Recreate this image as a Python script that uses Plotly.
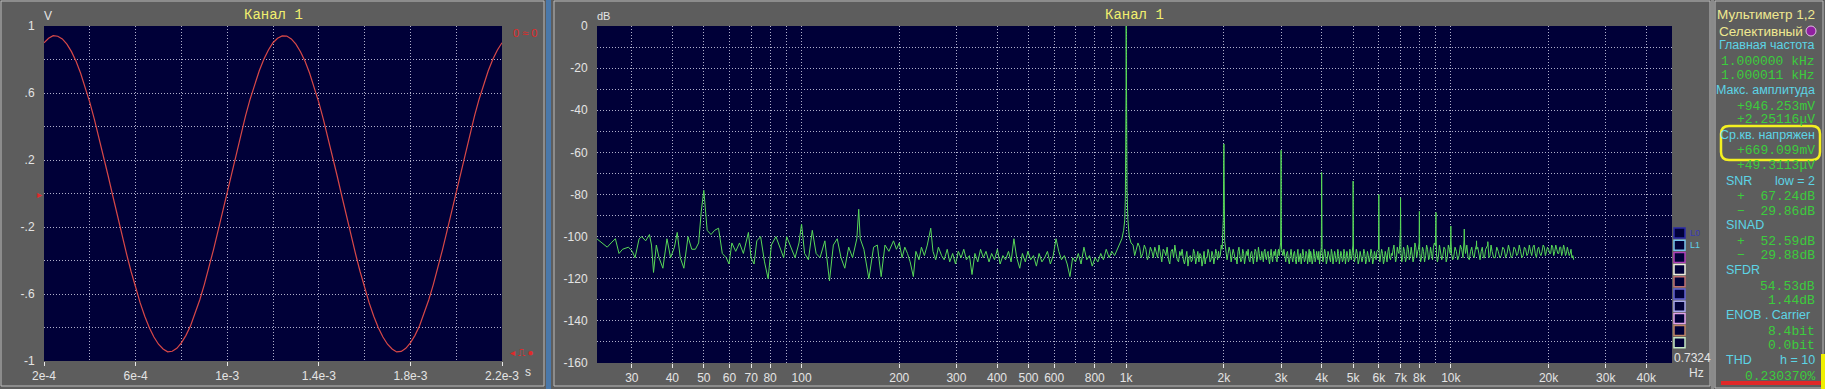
import plotly.graph_objects as go

W, H = 1825, 389

# ---------------- data ----------------
# oscilloscope (time in microseconds, volts)
wave_t_us = [200, 220, 240, 260, 280, 300, 320, 340, 360, 380,
             400, 420, 440, 460, 480, 500, 520, 540, 560, 580,
             600, 620, 640, 660, 680, 700, 720, 740, 760, 780,
             800, 820, 840, 860, 880, 900, 920, 940, 960, 980,
             1000, 1020, 1040, 1060, 1080, 1100, 1120, 1140, 1160, 1180,
             1200, 1220, 1240, 1260, 1280, 1300, 1320, 1340, 1360, 1380,
             1400, 1420, 1440, 1460, 1480, 1500, 1520, 1540, 1560, 1580,
             1600, 1620, 1640, 1660, 1680, 1700, 1720, 1740, 1760, 1780,
             1800, 1820, 1840, 1860, 1880, 1900, 1920, 1940, 1960, 1980,
             2000, 2020, 2040, 2060, 2080, 2100, 2120, 2140, 2160, 2180,
             2200]
wave_v = [0.900, 0.927, 0.942, 0.939, 0.923, 0.892, 0.847, 0.789, 0.718, 0.636,
          0.544, 0.443, 0.336, 0.223, 0.106, -0.012, -0.130, -0.246, -0.358, -0.464,
          -0.563, -0.653, -0.733, -0.802, -0.857, -0.900, -0.928, -0.945, -0.942, -0.924,
          -0.892, -0.847, -0.789, -0.718, -0.636, -0.544, -0.443, -0.336, -0.223, -0.106,
          0.012, 0.130, 0.246, 0.358, 0.464, 0.563, 0.653, 0.733, 0.802, 0.857,
          0.900, 0.927, 0.941, 0.940, 0.923, 0.892, 0.846, 0.789, 0.718, 0.636,
          0.544, 0.443, 0.336, 0.223, 0.106, -0.012, -0.130, -0.246, -0.358, -0.464,
          -0.563, -0.653, -0.733, -0.802, -0.857, -0.900, -0.928, -0.946, -0.943, -0.924,
          -0.892, -0.847, -0.789, -0.718, -0.636, -0.544, -0.443, -0.336, -0.223, -0.106,
          0.012, 0.130, 0.246, 0.358, 0.464, 0.563, 0.653, 0.733, 0.802, 0.857,
          0.900]

# spectrum (Hz, dB)
spec_low_f = [23.4, 24.6, 25.2, 25.9, 26.7, 27.4, 28.1, 29.3, 30.1, 30.7,
              31.6, 32.2, 33.1, 34.0, 34.5, 35.0, 35.7, 36.4, 37.4, 38.5,
              39.5, 40.6, 41.4, 42.3, 43.4, 44.7, 45.9, 47.1, 48.2, 49.1,
              50.0, 50.5, 51.2, 52.6, 54.0, 55.5, 57.0, 58.6, 59.8, 61.0,
              62.7, 64.4, 66.2, 68.6, 69.9, 71.4, 72.8, 74.8, 76.9, 78.9,
              80.7, 83.4, 85.7, 88.1, 90.0, 92.9, 95.5, 98.2, 100.0, 102.2,
              105.0, 107.9, 110.9, 114.0, 118.0, 121.9, 125.3, 128.8, 132.3, 135.9,
              139.7, 143.6, 148.0, 150.0, 151.6, 155.6, 161.2, 166.7, 171.2, 175.9,
              180.7, 185.8]
spec_low_db = [-101, -104, -105, -103, -101, -108, -106, -105, -107, -110,
               -101, -100, -102, -99, -104, -117, -104, -110, -115, -101,
               -110, -105, -98, -110, -115, -100, -106, -106, -103, -88,
               -78, -86, -97, -99, -97, -96, -108, -110, -113, -103,
               -107, -103, -108, -98, -110, -113, -102, -100, -112, -120,
               -104, -100, -105, -110, -100, -105, -110, -103, -94, -108,
               -111, -97, -108, -110, -102, -121, -104, -101, -110, -115,
               -105, -110, -101, -87, -101, -106, -120, -105, -104, -119,
               -104, -107]

spec_mid_f = [192, 196, 200, 204, 208, 212, 216, 221, 225, 230,
              234, 239, 244, 250, 254, 259, 264, 270, 275, 281,
              286, 292, 298, 304, 310, 316, 322, 329, 335, 342,
              349, 356, 363, 370, 378, 385, 393, 401, 409, 417,
              425, 434, 442, 451, 460, 470, 479, 489, 498, 508,
              518, 529, 539, 550, 561, 572, 584, 596, 608, 620,
              632, 645, 658, 671, 684, 698, 712, 726, 741, 756,
              771, 786, 802, 818, 835, 851, 868, 886, 903, 921,
              940, 958]
spec_mid_db = [-102, -106, -103, -110, -105, -108, -112, -119, -107, -111,
               -105, -109, -104, -96, -107, -111, -105, -109, -111, -106,
               -112, -108, -113, -107, -110, -106, -111, -109, -118, -108,
               -112, -106, -110, -107, -112, -108, -111, -106, -113, -109,
               -111, -107, -112, -101, -110, -115, -108, -112, -107, -111,
               -109, -114, -108, -112, -110, -107, -113, -109, -101, -107,
               -111, -109, -113, -119, -110, -112, -108, -113, -105, -111,
               -109, -114, -110, -112, -108, -111, -106, -110, -107, -109,
               -106, -103]

spec_fund_f = [970, 982, 990, 994, 997, 999, 1000, 1001, 1003, 1006, 1012, 1022, 1035]
spec_fund_db = [-101, -97, -92, -82, -64, -30, 0, -28, -66, -78, -92, -100, -103]

spec_high_f = [1050, 1075, 1100, 1125, 1150, 1175, 1200, 1225, 1250, 1275,
               1300, 1325, 1350, 1375, 1400, 1425, 1450, 1475, 1500, 1525,
               1550, 1575, 1600, 1625, 1650, 1675, 1700, 1725, 1750, 1775,
               1800, 1825, 1850, 1875, 1900, 1925, 1950, 1975, 1992, 1996,
               2000, 2004, 2010, 2030, 2060, 2090, 2120, 2150, 2180, 2210,
               2240, 2270, 2300, 2330, 2360, 2390, 2420, 2450, 2480, 2510,
               2540, 2570, 2600, 2630, 2660, 2690, 2720, 2750, 2780, 2810,
               2840, 2870, 2900, 2930, 2960, 2990, 2996, 3000, 3004, 3010,
               3040, 3080, 3120, 3160, 3200, 3240, 3280, 3320, 3360, 3400,
               3440, 3480, 3520, 3560, 3600, 3640, 3680, 3720, 3760, 3800,
               3840, 3880, 3920, 3960, 3990, 3996, 4000, 4004, 4012, 4060,
               4110, 4160, 4210, 4260, 4310, 4360, 4410, 4460, 4510, 4560,
               4610, 4660, 4710, 4760, 4810, 4860, 4910, 4960, 4992, 5000,
               5006, 5015, 5080, 5150, 5220, 5290, 5360, 5430, 5500, 5570,
               5640, 5710, 5780, 5850, 5920, 5985, 5995, 6000, 6006, 6015,
               6080, 6160, 6240, 6320, 6400, 6480, 6560, 6640, 6720, 6800,
               6880, 6960, 6994, 7000, 7007, 7020, 7100, 7200, 7300, 7400,
               7500, 7600, 7700, 7800, 7900, 7985, 7994, 8000, 8008, 8020,
               8120, 8240, 8360, 8480, 8600, 8720, 8840, 8960, 8994, 9000,
               9008, 9030, 9150, 9300, 9450, 9600, 9750, 9900, 9990, 10000,
               10012, 10050, 10200, 10400, 10600, 10800, 10980, 11000, 11020, 11100,
               11300, 11500, 11700, 11900, 11990, 12000, 12020, 12200, 12400, 12600,
               12800, 12990, 13000, 13020, 13200, 13400, 13700, 14000, 14300, 14600,
               14900, 15200, 15500, 15800, 16100, 16400, 16700, 17000, 17300, 17600,
               17900, 18200, 18500, 18800, 19100, 19400, 19700, 20000, 20300, 20600,
               20900, 21200, 21500, 21800, 22100, 22400, 22700, 23000, 23300, 23600,
               23900]
spec_high_db = [-104, -106, -105, -108, -106, -109, -107, -105, -110, -108,
                -106, -109, -111, -107, -110, -108, -112, -109, -111, -110,
                -114, -109, -111, -108, -110, -112, -109, -111, -113, -110,
                -108, -111, -109, -110, -108, -107, -109, -106, -91, -66,
                -56, -72, -102, -106, -108, -107, -109, -108, -110, -107,
                -109, -111, -108, -110, -109, -111, -108, -110, -109, -107,
                -110, -108, -111, -109, -107, -110, -108, -111, -109, -110,
                -108, -109, -111, -108, -109, -103, -84, -59, -91, -106,
                -109, -110, -108, -111, -109, -110, -108, -111, -109, -112,
                -108, -110, -109, -111, -108, -110, -112, -109, -111, -108,
                -110, -109, -107, -110, -105, -89, -69.5, -95, -107, -110,
                -108, -111, -109, -112, -108, -110, -109, -111, -108, -110,
                -109, -111, -108, -110, -109, -111, -108, -109, -104, -73.6,
                -92, -107, -110, -108, -111, -109, -110, -108, -111, -109,
                -110, -108, -111, -109, -107, -106, -95, -80, -96, -108,
                -110, -108, -111, -109, -107, -110, -108, -106, -109, -110,
                -107, -104, -96, -81.5, -98, -108, -110, -107, -110, -106,
                -109, -108, -110, -105, -107, -103, -98, -88, -99, -108,
                -110, -107, -109, -106, -110, -108, -105, -104, -98, -88.5,
                -100, -108, -110, -107, -109, -106, -110, -106, -101, -95,
                -102, -108, -110, -107, -109, -106, -102, -96.4, -103, -108,
                -110, -107, -109, -106, -104, -102, -106, -109, -107, -110,
                -106, -104, -102.4, -107, -109, -107, -110, -107, -109, -106,
                -108, -107, -109, -106, -108, -107, -109, -106, -108, -107,
                -105, -108, -106, -108, -107, -105, -107, -106, -108, -105,
                -107, -106, -108, -105, -107, -106, -108, -107, -108, -110,
                -111]

# extra noise-floor bins (fine "hair" between the bins above)
spec_hair_f = [1062, 1087, 1112, 1137, 1162, 1187, 1212, 1237, 1262, 1287,
               1312, 1337, 1362, 1387, 1412, 1437, 1462, 1487, 1512, 1537,
               1562, 1587, 1612, 1637, 1662, 1687, 1712, 1737, 1762, 1787,
               1812, 1837, 1862, 1887, 1912, 1937, 1962,
               2045, 2075, 2105, 2135, 2165, 2195, 2225, 2255, 2285, 2315,
               2345, 2375, 2405, 2435, 2465, 2495, 2525, 2555, 2585, 2615,
               2645, 2675, 2705, 2735, 2765, 2795, 2825, 2855, 2885, 2915, 2945,
               3060, 3100, 3140, 3180, 3220, 3260, 3300, 3340, 3380, 3420,
               3460, 3500, 3540, 3580, 3620, 3660, 3700, 3740, 3780, 3820,
               3860, 3900, 3940, 3975,
               4035, 4085, 4135, 4185, 4235, 4285, 4335, 4385, 4435, 4485,
               4535, 4585, 4635, 4685, 4735, 4785, 4835, 4885, 4935, 4975,
               5045, 5115, 5185, 5255, 5325, 5395, 5465, 5535, 5605, 5675,
               5745, 5815, 5885, 5955,
               6045, 6120, 6200, 6280, 6360, 6440, 6520, 6600, 6680, 6760, 6840, 6920,
               7060, 7150, 7250, 7350, 7450, 7550, 7650, 7750, 7850, 7945,
               8070, 8180, 8300, 8420, 8540, 8660, 8780, 8900,
               9090, 9225, 9375, 9525, 9675, 9825, 9950,
               10125, 10300, 10500, 10700, 10900, 11200, 11400, 11600, 11800, 12100,
               12300, 12500, 12700, 12900,
               13100, 13300, 13550, 13850, 14150, 14450, 14750, 15050, 15350, 15650,
               15950, 16250, 16550, 16850, 17150, 17450, 17750, 18050, 18350, 18650,
               18950, 19250, 19550, 19850, 20150, 20450, 20750, 21050, 21350, 21650,
               21950, 22250, 22550, 22850, 23150, 23450, 23750]
spec_hair_db = [-109, -103, -110, -104, -111, -105, -110, -108, -104, -112,
                -107, -105, -113, -106, -104, -111, -107, -106, -113, -107,
                -110, -112, -106, -113, -107, -108, -114, -107, -110, -106,
                -112, -107, -113, -106, -111, -110, -104,
                -111, -105, -112, -106, -111, -113, -105, -112, -106, -113,
                -107, -106, -112, -107, -113, -106, -112, -105, -111, -107,
                -112, -106, -111, -107, -113, -106, -112, -107, -106, -112, -106,
                -106, -112, -107, -113, -106, -112, -107, -113, -106, -110,
                -113, -106, -112, -107, -113, -106, -107, -113, -106, -112,
                -107, -111, -113, -108,
                -112, -106, -113, -107, -111, -106, -113, -107, -112, -106,
                -113, -107, -112, -106, -113, -107, -112, -106, -111, -107,
                -112, -106, -113, -107, -112, -106, -113, -107, -112, -106,
                -113, -107, -111, -106,
                -112, -106, -113, -107, -112, -105, -111, -109, -104, -112, -105, -108,
                -112, -105, -112, -104, -111, -105, -112, -103, -110, -106,
                -112, -105, -112, -104, -111, -105, -111, -103,
                -112, -104, -111, -105, -112, -104, -108,
                -111, -105, -111, -104, -110, -104, -111, -105, -110, -105,
                -111, -105, -110, -105,
                -110, -104, -110, -105, -110, -105, -110, -104, -110, -105,
                -109, -104, -110, -105, -109, -104, -109, -104, -110, -105,
                -109, -104, -109, -105, -108, -104, -109, -104, -108, -105,
                -109, -104, -109, -105, -109, -106, -109]

# axis tick definitions
osc_xtick_vals = [2e-4, 6e-4, 1e-3, 1.4e-3, 1.8e-3, 2.2e-3]
osc_xtick_text = ["2e-4", "6e-4", "1e-3", "1.4e-3", "1.8e-3", "2.2e-3"]
osc_ytick_vals = [1, 0.6, 0.2, -0.2, -0.6, -1]
osc_ytick_text = ["1", ".6", ".2", "-.2", "-.6", "-1"]

spec_xtick_vals = [30, 40, 50, 60, 70, 80, 100, 200, 300, 400, 500, 600, 800,
                   1000, 2000, 3000, 4000, 5000, 6000, 7000, 8000, 10000, 20000, 30000, 40000]
spec_xtick_text = ["30", "40", "50", "60", "70", "80", "100", "200", "300", "400", "500", "600", "800",
                   "1k", "2k", "3k", "4k", "5k", "6k", "7k", "8k", "10k", "20k", "30k", "40k"]
spec_xminor_vals = [90, 700, 900, 9000]
spec_ytick_vals = [0, -20, -40, -60, -80, -100, -120, -140, -160]
spec_ytick_text = ["0", "-20", "-40", "-60", "-80", "-100", "-120", "-140", "-160"]

# multimeter sidebar: (text, color-key, y px, align)
meter_lines = [
    ("Мультиметр 1,2", "hdr", 14, "r"),
    ("Селективный", "hdr", 31, "r2"),
    ("Главная частота", "lbl", 45, "r"),
    ("1.000000 kHz", "val", 61, "r"),
    ("1.000011 kHz", "val", 76, "r"),
    ("Макс. амплитуда", "lbl", 90, "r"),
    ("+946.253mV", "val", 106, "r"),
    ("+2.25116μV", "val", 120, "r"),
    ("Ср.кв. напряжен", "lbl", 135, "r"),
    ("+669.099mV", "val", 150, "r"),
    ("+49.3113μV", "val", 165, "r"),
    ("SNR", "lbl", 181, "l"),
    ("low = 2", "lbl", 181, "r"),
    ("+  67.24dB", "val", 196, "r"),
    ("−  29.86dB", "val", 211, "r"),
    ("SINAD", "lbl", 225, "l"),
    ("+  52.59dB", "val", 241, "r"),
    ("−  29.88dB", "val", 256, "r"),
    ("SFDR", "lbl", 270, "l"),
    ("54.53dB", "val", 286, "r"),
    ("1.44dB", "val", 300, "r"),
    ("ENOB . Carrier", "lbl", 315, "l"),
    ("8.4bit", "val", 331, "r"),
    ("0.0bit", "val", 345, "r"),
    ("THD", "lbl", 360, "l"),
    ("h = 10", "lbl", 360, "r"),
    ("0.230370%", "val", 376, "r"),
]
legend_box_colors = ["#2a2aa8", "#78c4ec", "#b040b8", "#f0f0e0", "#c07070",
                     "#6464d4", "#a8a8ec", "#e4a4ec", "#c08464", "#c4e8c4"]

# ---------------- styling helpers ----------------
BG = "#5d5d5d"
NAVY = "#000038"
GRID = "#b0b0cc"
TICKFONT = dict(family="Liberation Sans, Arial, sans-serif", size=12, color="#e4e4e4")


def PX(x):
    return x / W


def PY(y):
    return 1 - y / H


fig = go.Figure()

fig.add_trace(go.Scatter(
    x=[t * 1e-6 for t in wave_t_us], y=wave_v, mode="lines",
    line=dict(color="#d84848", width=1.2), xaxis="x", yaxis="y", hoverinfo="skip"))

high_pairs = sorted(zip(spec_high_f + spec_hair_f, spec_high_db + spec_hair_db))
spec_f = spec_low_f + spec_mid_f + spec_fund_f + [p[0] for p in high_pairs]
spec_db = spec_low_db + spec_mid_db + spec_fund_db + [p[1] for p in high_pairs]
fig.add_trace(go.Scatter(
    x=spec_f, y=spec_db, mode="lines",
    line=dict(color="#58d858", width=1), xaxis="x2", yaxis="y2", hoverinfo="skip"))

common_grid = dict(showgrid=True, gridcolor=GRID, gridwidth=1, griddash="1px,2px",
                   zeroline=False, showline=False, tickfont=TICKFONT, automargin=False)

fig.update_layout(
    width=W, height=H, autosize=False,
    margin=dict(l=0, r=0, t=0, b=0, pad=0),
    paper_bgcolor=BG, plot_bgcolor=NAVY, showlegend=False,
    xaxis=dict(domain=[PX(44), PX(502)], range=[2e-4, 2.2e-3], anchor="y",
               tickmode="array", tickvals=osc_xtick_vals, ticktext=osc_xtick_text,
               ticks="outside", ticklen=4, tickcolor="#e8e8e8",
               minor=dict(tick0=2e-4, dtick=2e-4, showgrid=True, gridcolor=GRID,
                          griddash="1px,2px", ticks=""),
               **common_grid),
    yaxis=dict(domain=[PY(361), PY(26)], range=[-1, 1], anchor="x",
               tickmode="array", tickvals=osc_ytick_vals, ticktext=osc_ytick_text,
               ticks="outside", ticklen=6, tickcolor="rgba(0,0,0,0)",
               minor=dict(tick0=0, dtick=0.2, showgrid=True, gridcolor=GRID,
                          griddash="1px,2px", ticks=""),
               **common_grid),
    xaxis2=dict(domain=[PX(597), PX(1672)], type="log", range=[1.36993, 4.68124], anchor="y2",
                tickmode="array", tickvals=spec_xtick_vals, ticktext=spec_xtick_text,
                ticks="outside", ticklen=4, tickcolor="#e8e8e8",
                minor=dict(tickmode="array", tickvals=spec_xminor_vals, showgrid=True,
                           gridcolor=GRID, griddash="1px,2px", ticks=""),
                **common_grid),
    yaxis2=dict(domain=[PY(363), PY(26)], range=[-160, 0], anchor="x2",
                tickmode="array", tickvals=spec_ytick_vals, ticktext=spec_ytick_text,
                ticks="outside", ticklen=6, tickcolor="rgba(0,0,0,0)",
                minor=dict(tick0=0, dtick=10, showgrid=True, gridcolor=GRID,
                           griddash="1px,2px", ticks=""),
                **common_grid),
)

shapes = []
# panel frames
for (x0, y0, x1, y1) in [(1, 1, 544, 386), (554, 1, 1710, 386), (1715, 1, 1823, 388)]:
    shapes.append(dict(type="rect", xref="paper", yref="paper", x0=PX(x0), x1=PX(x1),
                       y0=PY(y1), y1=PY(y0), line=dict(color="#bcbcbc", width=1),
                       fillcolor="rgba(0,0,0,0)", layer="above"))
# blue separator
shapes.append(dict(type="rect", xref="paper", yref="paper", x0=PX(546), x1=PX(551),
                   y0=0, y1=1, line=dict(width=0), fillcolor="#4a78aa", layer="above"))
shapes.append(dict(type="rect", xref="paper", yref="paper", x0=PX(1711), x1=PX(1714),
                   y0=0, y1=1, line=dict(width=0), fillcolor="#8a8a8a", layer="above"))
# legend boxes
for i, c in enumerate(legend_box_colors):
    yc = 233 + i * 12.2
    shapes.append(dict(type="rect", xref="paper", yref="paper", x0=PX(1674), x1=PX(1685),
                       y0=PY(yc + 5), y1=PY(yc - 5), line=dict(color=c, width=1.5),
                       fillcolor=NAVY, layer="above"))


# yellow rounded rectangle in sidebar
def rr_path(x0, y0, x1, y1, r):
    X = lambda v: f"{PX(v):.5f}"
    Y = lambda v: f"{PY(v):.5f}"
    return (f"M {X(x0 + r)},{Y(y0)} L {X(x1 - r)},{Y(y0)} Q {X(x1)},{Y(y0)} {X(x1)},{Y(y0 + r)} "
            f"L {X(x1)},{Y(y1 - r)} Q {X(x1)},{Y(y1)} {X(x1 - r)},{Y(y1)} L {X(x0 + r)},{Y(y1)} "
            f"Q {X(x0)},{Y(y1)} {X(x0)},{Y(y1 - r)} L {X(x0)},{Y(y0 + r)} Q {X(x0)},{Y(y0)} {X(x0 + r)},{Y(y0)} Z")


shapes.append(dict(type="path", xref="paper", yref="paper", path=rr_path(1721, 126, 1820, 160, 8),
                   line=dict(color="#f4f020", width=2.5), layer="above"))
# red bar and yellow bar at bottom of sidebar
shapes.append(dict(type="line", xref="paper", yref="paper", x0=PX(1721), x1=PX(1825),
                   y0=PY(383), y1=PY(383), line=dict(color="#e02828", width=4), layer="above"))
shapes.append(dict(type="rect", xref="paper", yref="paper", x0=PX(1821), x1=PX(1825),
                   y0=PY(389), y1=PY(354), line=dict(width=0), fillcolor="#f0f000", layer="above"))
# purple dot
shapes.append(dict(type="circle", xref="paper", yref="paper", x0=PX(1806), x1=PX(1816),
                   y0=PY(36), y1=PY(26), line=dict(color="#e0c0e0", width=1),
                   fillcolor="#9020a0", layer="above"))
fig.update_layout(shapes=shapes)

anns = []


def ann(text, x, y, color, size=12, family="Liberation Sans, Arial, sans-serif", xanchor="center"):
    anns.append(dict(text=text, x=PX(x), y=PY(y), xref="paper", yref="paper",
                     xanchor=xanchor, yanchor="middle", showarrow=False,
                     font=dict(color=color, size=size, family=family)))


MONO = "Liberation Mono, Courier New, monospace"
ann("Канал 1", 273, 15, "#f2ef6e", 14, MONO)
ann("Канал 1", 1134, 15, "#f2ef6e", 14, MONO)
ann("V", 48, 16, "#e4e4e4", 12)
ann("s", 528, 372, "#e4e4e4", 12)
ann("dB", 603, 16, "#e4e4e4", 11)
ann("Hz", 1696, 373, "#e4e4e4", 12)
ann("0.7324", 1692, 358, "#e4e4e4", 12)
ann("L0", 1688, 233, "#3a3ab8", 9, xanchor="left")
ann("L1", 1688, 245, "#60d0e8", 9, xanchor="left")
ann("0 ≈ 0", 525, 33, "#e02a2a", 11)
ann("◂ ⎍ ●", 522, 352, "#e02a2a", 10)
ann("▸", 39, 194, "#e02a2a", 10)

colors = {"hdr": "#efe890", "lbl": "#5cd4e6", "val": "#3ccc3c"}
sizes = {"hdr": 13.5, "lbl": 12.5, "val": 13}
for text, ck, y, al in meter_lines:
    fam = MONO if ck == "val" else "Liberation Sans, Arial, sans-serif"
    size = sizes[ck]
    if al == "l":
        ann(text, 1724, y, colors[ck], size, fam, xanchor="left")
    elif al == "r2":
        ann(text, 1805, y, colors[ck], size, fam, xanchor="right")
    else:
        ann(text, 1817, y, colors[ck], size, fam, xanchor="right")

fig.update_layout(annotations=anns)

fig.write_html("out.html",
               post_script="document.body.style.margin='0';document.body.style.overflow='hidden';")
